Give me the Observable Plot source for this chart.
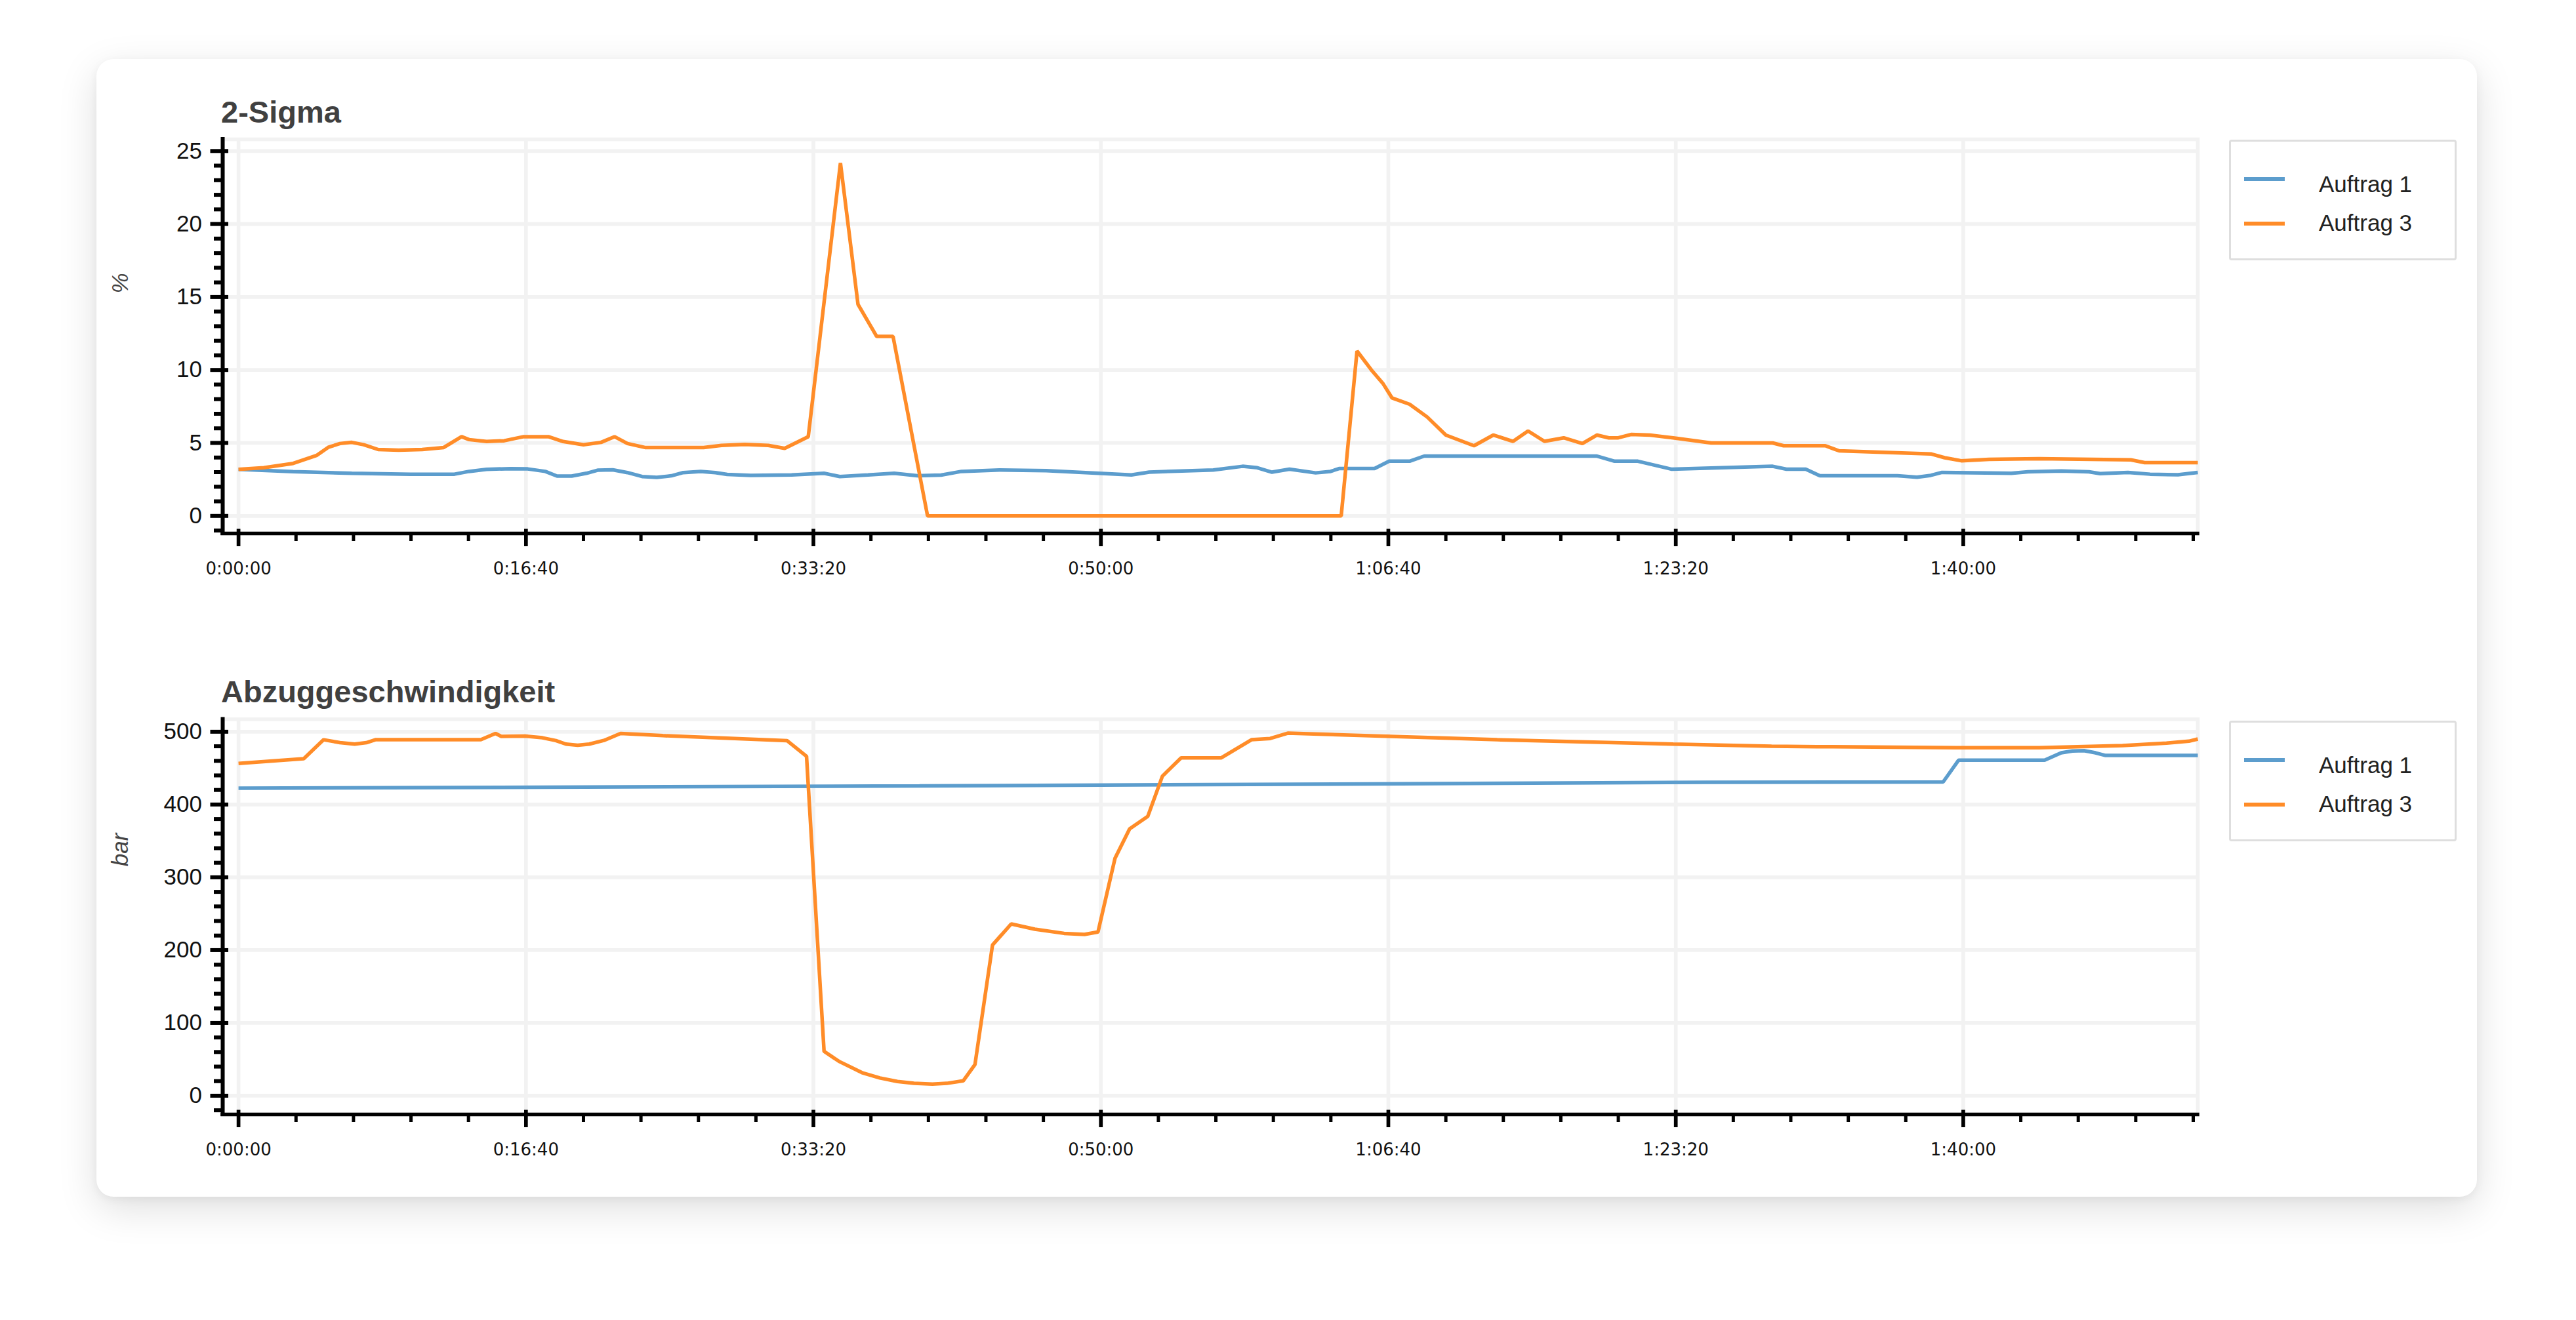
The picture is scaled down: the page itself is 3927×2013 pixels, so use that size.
<!DOCTYPE html>
<html><head><meta charset="utf-8">
<script src="https://cdn.jsdelivr.net/npm/d3@7"></script>
<script src="https://cdn.jsdelivr.net/npm/@observablehq/plot@0.6"></script>
<style>
html,body{margin:0;padding:0;background:#fff;width:3927px;height:2013px;overflow:hidden;font-family:"Liberation Sans",Arial,sans-serif;}
#card{position:absolute;left:147px;top:90px;width:3629px;height:1735px;background:#fff;border-radius:26px;box-shadow:0 18px 60px rgba(0,0,0,0.13),0 4px 14px rgba(0,0,0,0.05);}
.title{position:absolute;left:337px;font-family:"Liberation Sans",Arial,sans-serif;font-weight:bold;font-size:47px;color:#404040;line-height:47px;white-space:nowrap;}
.chart{position:absolute;left:150px;}
.legend{position:absolute;left:3398px;width:347px;border:3px solid #dedede;border-radius:4px;background:#fff;box-sizing:border-box;}
.legend .sw{position:absolute;left:20px;width:62px;height:6px;}
.legend .tx{position:absolute;left:134px;font-family:"Liberation Sans",Arial,sans-serif;font-size:35px;line-height:40px;color:#222;white-space:nowrap;}
</style>
</head>
<body>
<div id="card"></div>
<div class="title" style="top:147px">2-Sigma</div>
<div class="title" style="top:1031px">Abzuggeschwindigkeit</div>
<div id="c1" class="chart" style="top:200px"></div>
<div id="c2" class="chart" style="top:1085px"></div>
<div id="l1" class="legend" style="top:213px;height:184px"></div>
<div id="l2" class="legend" style="top:1099px;height:184px"></div>
<script>
// ---- data ----
const seriesNames = ["Auftrag 1", "Auftrag 3"];
const seriesColors = ["#5c9dcd", "#ff8c28"];

const xTickValues = [0, 1000, 2000, 3000, 4000, 5000, 6000];
const xTickLabels = ["0:00:00", "0:16:40", "0:33:20", "0:50:00", "1:06:40", "1:23:20", "1:40:00"];
const xMinorTicks = [200,400,600,800,1200,1400,1600,1800,2200,2400,2600,2800,3200,3400,3600,3800,4200,4400,4600,4800,5200,5400,5600,5800,6200,6400,6600,6800];

// 2-Sigma (%)
const sigmaTimeA1 = [0,190,394,598,751,802,863,945,1006,1067,1108,1159,1210,1251,1302,1353,1404,1455,1506,1547,1608,1659,1700,1782,1924,2037,2092,2190,2281,2362,2444,2515,2647,2810,3106,3168,3391,3493,3544,3595,3656,3747,3799,3830,3952,4003,4074,4125,4726,4787,4868,4986,5337,5385,5452,5501,5771,5839,5887,5926,6167,6225,6341,6437,6476,6573,6650,6747,6816];
const sigmaA1     = [3.19,3.03,2.92,2.86,2.86,3.05,3.19,3.24,3.22,3.05,2.73,2.73,2.92,3.14,3.16,2.97,2.7,2.64,2.75,2.97,3.05,2.97,2.84,2.78,2.81,2.92,2.7,2.81,2.92,2.75,2.8,3.05,3.15,3.1,2.81,3.0,3.15,3.4,3.3,3.0,3.2,2.95,3.05,3.25,3.25,3.75,3.75,4.1,4.1,3.75,3.75,3.2,3.4,3.2,3.2,2.75,2.75,2.65,2.78,2.98,2.92,3.02,3.08,3.02,2.9,2.98,2.86,2.82,2.98];
const sigmaTimeA3 = [0,88,190,271,312,353,394,435,486,557,639,714,776,802,863,924,992,1078,1129,1200,1261,1308,1353,1414,1618,1680,1761,1843,1900,1982,2094,2155,2220,2277,2397,3836,3891,3941,3982,4013,4074,4135,4200,4298,4365,4434,4486,4543,4610,4675,4726,4767,4800,4844,4910,4991,5123,5337,5375,5520,5568,5887,5935,5993,6090,6264,6583,6631,6816];
const sigmaA3     = [3.19,3.3,3.6,4.14,4.7,4.96,5.04,4.88,4.55,4.5,4.55,4.69,5.43,5.23,5.1,5.15,5.43,5.43,5.1,4.88,5.04,5.43,4.96,4.69,4.69,4.83,4.9,4.83,4.63,5.43,24.18,14.5,12.3,12.3,0,0,11.3,10.0,9.05,8.08,7.65,6.78,5.54,4.81,5.54,5.11,5.82,5.11,5.35,4.96,5.54,5.35,5.35,5.58,5.54,5.35,5.0,5.0,4.81,4.81,4.46,4.25,3.99,3.78,3.88,3.92,3.84,3.65,3.65];

// Abzuggeschwindigkeit (bar)
const speedTimeA1 = [0,2369,5105,5930,5984,6283,6341,6380,6420,6460,6495,6816];
const speedA1     = [422.5,425.5,430.5,431,461,461,471,473.5,474,471,467.4,467.4];
const speedTimeA3 = [0,227,296,353,404,445,476,843,894,914,996,1057,1104,1139,1180,1220,1271,1329,1476,1908,1976,2037,2088,2169,2231,2292,2350,2414,2464,2521,2562,2623,2688,2770,2872,2943,2990,3049,3100,3163,3214,3279,3418,3524,3589,3650,3972,4379,4991,5333,5491,5975,6264,6554,6707,6785,6816];
const speedA3     = [456.5,463,489,485,483,485,489,489,497.6,493.6,494,491.7,487.8,483,481.4,483,488,497.6,494.6,487.8,466.3,61,47.4,31.7,24.4,19.5,17,16,17,20.4,42.8,207,236,228.8,223,221.5,225,326,366.6,383.6,439,464,464,489,490.7,498,494,489,483,480,479.5,478,478,481,484.4,487,490];

const sigmaYMajor = [0,5,10,15,20,25];
const sigmaYMinor = d3.range(-1, 26, 1).filter(v => v % 5 !== 0);
const speedYMajor = [0,100,200,300,400,500];
const speedYMinor = d3.range(-20, 517, 20).filter(v => v % 100 !== 0);

const xDomain = [-55, 6816];
const gridColor = "#f2f2f2";

function rowsOf(series) {
  const rows = [];
  series.forEach(s => s.t.forEach((t, i) => rows.push({t, v: s.v[i], name: s.name})));
  return rows;
}

function chart(cfg) {
  const W = 3220, H = 700;
  const mL = 189, mR = 20;
  const mT = cfg.marginTop;
  const mB = H - mT - cfg.innerHeight;
  const rows = rowsOf(cfg.series);
  const fmt = t => xTickLabels[xTickValues.indexOf(t)];
  return Plot.plot({
    width: W, height: H,
    marginLeft: mL, marginRight: mR, marginTop: mT, marginBottom: mB,
    style: {fontFamily: "Liberation Sans", fontSize: "26px", color: "#111", background: "transparent", overflow: "visible"},
    x: {type: "linear", domain: xDomain},
    y: {type: "linear", domain: cfg.yDomain},
    color: {domain: seriesNames, range: seriesColors},
    marks: [
      Plot.frame({stroke: gridColor, strokeWidth: 5.7}),
      Plot.gridX({ticks: xTickValues, stroke: gridColor, strokeOpacity: 1, strokeWidth: 5.7}),
      Plot.gridY({ticks: cfg.yMajor, stroke: gridColor, strokeOpacity: 1, strokeWidth: 5.7}),
      Plot.lineY(rows, {x: "t", y: "v", z: "name", stroke: "name", strokeWidth: 5.5, strokeLinejoin: "miter", strokeLinecap: "butt"}),
      // axis lines
      Plot.ruleX([xDomain[0]], {stroke: "#000", strokeWidth: 6, strokeLinecap: "square"}),
      Plot.ruleY([cfg.yDomain[0]], {stroke: "#000", strokeWidth: 5.5, strokeLinecap: "square"}),
      // y ticks
      Plot.axisY({ticks: cfg.yMajor, tickSize: 27.5, dx: 9, fill: "none", stroke: "#000", strokeWidth: 6, label: null}),
      Plot.axisY({ticks: cfg.yMinor, tickSize: 13, fill: "none", stroke: "#000", strokeWidth: 6, label: null}),
      Plot.axisY({ticks: cfg.yMajor, tickSize: 0, tickPadding: 31.5, fontSize: 35, fontFamily: "Liberation Sans", fill: "#111", label: null}),
      // x ticks
      Plot.axisX({ticks: xTickValues, tickSize: 26.5, dy: -6.5, fill: "none", stroke: "#000", strokeWidth: 5.7, label: null}),
      Plot.axisX({ticks: xMinorTicks, tickSize: 12, fill: "none", stroke: "#000", strokeWidth: 5, label: null}),
      Plot.axisX({ticks: xTickValues, tickSize: 0, tickPadding: 44, tickFormat: fmt, fontSize: 26, fontFamily: "DejaVu Sans", fill: "#111", label: null}),
      // axis label
      Plot.text([cfg.yLabel], {text: d => d, frameAnchor: "left", dx: -156, dy: cfg.labelDy, rotate: -90, fontSize: 35, fontStyle: "italic", fontFamily: "Liberation Sans", fill: "#444"})
    ]
  });
}

document.getElementById("c1").append(chart({
  marginTop: 12, innerHeight: 601,
  yDomain: [-1.2, 25.8], yMajor: sigmaYMajor, yMinor: sigmaYMinor,
  yLabel: "%", labelDy: -65.5,
  series: [{name: seriesNames[0], t: sigmaTimeA1, v: sigmaA1}, {name: seriesNames[1], t: sigmaTimeA3, v: sigmaA3}]
}));
document.getElementById("c2").append(chart({
  marginTop: 11.5, innerHeight: 602.5,
  yDomain: [-25.7, 517], yMajor: speedYMajor, yMinor: speedYMinor,
  yLabel: "bar", labelDy: -77,
  series: [{name: seriesNames[0], t: speedTimeA1, v: speedA1}, {name: seriesNames[1], t: speedTimeA3, v: speedA3}]
}));

function legend(id) {
  const el = document.getElementById(id);
  const swTop = [54, 122];
  const txTop = [45, 104];
  seriesNames.forEach((n, i) => {
    const sw = document.createElement("div");
    sw.className = "sw";
    sw.style.top = swTop[i] + "px";
    sw.style.background = seriesColors[i];
    const tx = document.createElement("div");
    tx.className = "tx";
    tx.style.top = txTop[i] + "px";
    tx.textContent = n;
    el.append(sw, tx);
  });
}
legend("l1");
legend("l2");
</script>
</body></html>
